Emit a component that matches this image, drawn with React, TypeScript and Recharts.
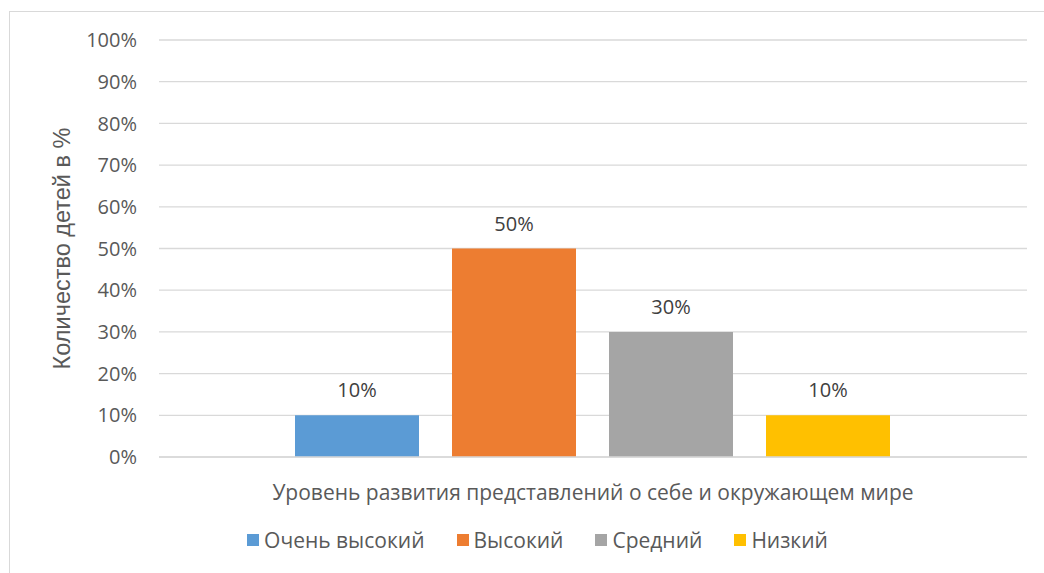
import React from 'react'
import { BarChart, Bar, XAxis, YAxis, CartesianGrid, Legend, LabelList } from 'recharts'

const categories = ['Уровень развития представлений о себе и окружающем мире']
const seriesNames = ['Очень высокий', 'Высокий', 'Средний', 'Низкий']
const seriesKeys = ['veryHigh', 'high', 'medium', 'low']
const seriesValues = [10, 50, 30, 10]
const seriesColors = ['#5B9BD5', '#ED7D31', '#A5A5A5', '#FFC000']
const yTicks = [0, 10, 20, 30, 40, 50, 60, 70, 80, 90, 100]
const yTitle = 'Количество детей в %'

const data = categories.map((name) => {
    const row: Record<string, string | number> = { name }
    seriesKeys.forEach((k, i) => {
        row[k] = seriesValues[i]
    })
    return row
})

const FONT = '"Open Sans", sans-serif'
const TEXT = '#595959'

function YTitle(props: any) {
    const { viewBox } = props
    const cy = viewBox.y + viewBox.height / 2
    const cx = 62
    return (
        <text
            x={cx}
            y={cy}
            transform={`rotate(-90 ${cx} ${cy})`}
            textAnchor="middle"
            dominantBaseline="central"
            fill={TEXT}
            fontSize={23.5}
            fontFamily='"Liberation Sans", Arial, sans-serif'
        >
            {yTitle}
        </text>
    )
}

function LegendBox() {
    return (
        <div
            style={{
                display: 'flex',
                justifyContent: 'center',
                alignItems: 'center',
                fontFamily: FONT,
                fontSize: 21,
                color: TEXT,
                paddingLeft: 31
            }}
        >
            {seriesNames.map((n, i) => (
                <div key={n} style={{ display: 'flex', alignItems: 'center', margin: '0 16px' }}>
                    <span
                        style={{
                            width: 12,
                            height: 12,
                            background: seriesColors[i],
                            marginRight: 5,
                            display: 'inline-block'
                        }}
                    />
                    <span>{n}</span>
                </div>
            ))}
        </div>
    )
}

export default function App() {
    return (
        <div
            style={{
                position: 'absolute',
                left: 0,
                top: 0,
                width: 1044,
                height: 573,
                overflow: 'hidden',
                background: '#fff'
            }}
        >
            <div
                style={{
                    position: 'absolute',
                    left: 9,
                    top: 11,
                    width: 1100,
                    height: 620,
                    border: '1px solid #D9D9D9'
                }}
            />
            <BarChart
                width={1044}
                height={573}
                data={data}
                margin={{ top: 40, right: 17, left: 0, bottom: 56 }}
                barCategoryGap={136}
                barGap={33}
                style={{ position: 'absolute', left: 0, top: 0 }}
            >
                <CartesianGrid vertical={false} stroke="#D9D9D9" strokeWidth={1.3} />
                <XAxis
                    dataKey="name"
                    height={60}
                    axisLine={{ stroke: '#D9D9D9', strokeWidth: 1.3 }}
                    tickLine={false}
                    tickMargin={22}
                    tick={{ fill: TEXT, fontSize: 21, fontFamily: FONT }}
                />
                <YAxis
                    width={159}
                    domain={[0, 100]}
                    ticks={yTicks}
                    interval={0}
                    axisLine={false}
                    tickLine={false}
                    tickSize={0}
                    tickMargin={22}
                    tickFormatter={(v) => `${v}%`}
                    tick={{ fill: TEXT, fontSize: 20, fontFamily: FONT }}
                    label={<YTitle />}
                />
                <Legend
                    layout="horizontal"
                    verticalAlign="middle"
                    align="center"
                    content={<LegendBox />}
                    wrapperStyle={{ position: 'absolute', top: 526, left: 0, width: 1044 }}
                />
                {seriesKeys.map((k, i) => (
                    <Bar
                        key={k}
                        dataKey={k}
                        name={seriesNames[i]}
                        fill={seriesColors[i]}
                        isAnimationActive={false}
                    >
                        <LabelList
                            dataKey={k}
                            position="top"
                            offset={18}
                            formatter={(v: any) => `${v}%`}
                            fill="#404040"
                            fontSize={20}
                            fontFamily={FONT}
                        />
                    </Bar>
                ))}
            </BarChart>
        </div>
    )
}
